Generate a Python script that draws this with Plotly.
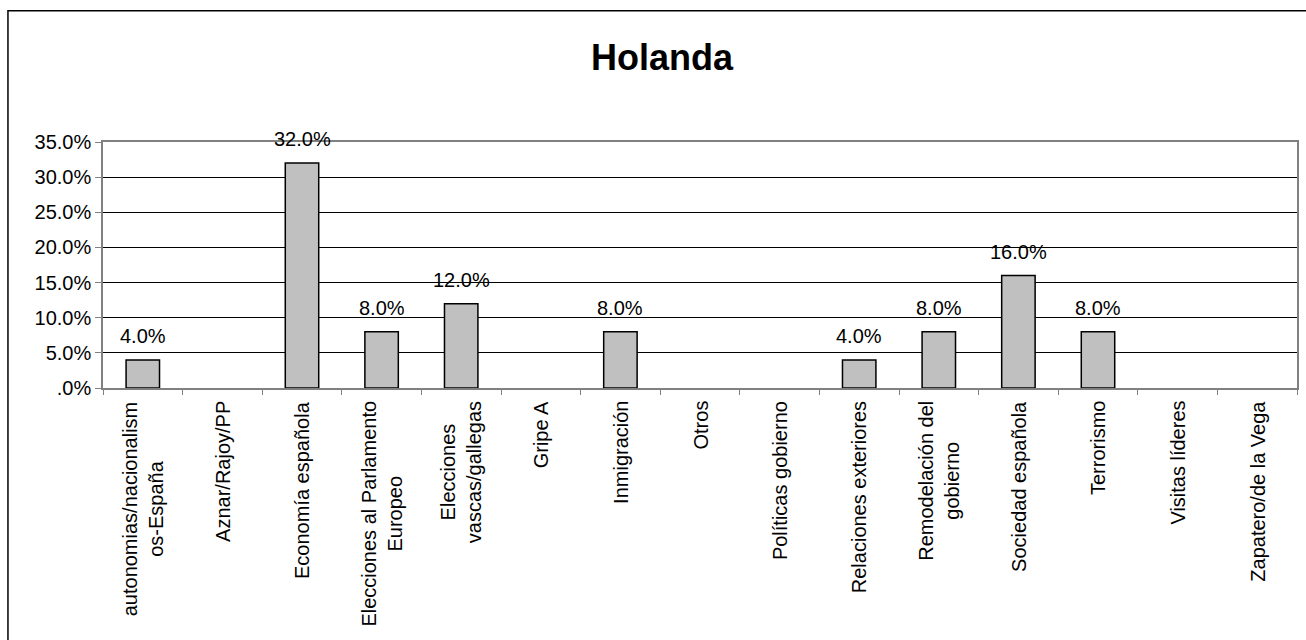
import plotly.graph_objects as go

categories = ["autonomias/nacionalism<br>os-España", "Aznar/Rajoy/PP", "Economía española",
              "Elecciones al Parlamento<br>Europeo", "Elecciones<br>vascas/gallegas", "Gripe A",
              "Inmigración", "Otros", "Políticas gobierno", "Relaciones exteriores",
              "Remodelación del<br>gobierno", "Sociedad española", "Terrorismo",
              "Visitas líderes", "Zapatero/de la Vega"]
values = [4.0, 0, 32.0, 8.0, 12.0, 0, 8.0, 0, 0, 4.0, 8.0, 16.0, 8.0, 0, 0]
ytick_vals = [0, 5, 10, 15, 20, 25, 30, 35]
ytick_text = [".0%", "5.0%", "10.0%", "15.0%", "20.0%", "25.0%", "30.0%", "35.0%"]
title = "Holanda"

FONT = "Liberation Sans, Arial, sans-serif"
xs = list(range(len(categories)))

fig = go.Figure()
fig.add_trace(go.Bar(
    x=xs, y=values, width=0.42,
    marker=dict(color="#c0c0c0",
                line=dict(color="black", width=[1.5 if v > 0 else 0 for v in values])),
    hoverinfo="skip",
))

annotations = []
for i, v in zip(xs, values):
    if v > 0:
        annotations.append(dict(x=i, y=v, xref="x", yref="y", text=f"{v:.1f}%",
                                showarrow=False, yanchor="bottom", yshift=11,
                                font=dict(family=FONT, size=20, color="black")))
for i, c in zip(xs, categories):
    annotations.append(dict(x=i, y=0, xref="x", yref="paper", text=c, textangle=-90,
                            showarrow=False, yanchor="top", xanchor="center", align="center",
                            yshift=-11,
                            font=dict(family=FONT, size=20, color="black")))
annotations.append(dict(x=0.4684, y=1.3423, xref="paper", yref="paper", text=f"<b>{title}</b>",
                        showarrow=False, xanchor="center", yanchor="middle",
                        font=dict(family=FONT, size=36, color="black")))

fig.update_layout(
    width=1306, height=640,
    margin=dict(l=103, r=7, t=142, b=252),
    paper_bgcolor="white", plot_bgcolor="white",
    showlegend=False,
    annotations=annotations,
    shapes=[dict(type="rect", xref="paper", yref="paper",
                 x0=-0.0796, x1=1.02, y0=-1.1, y1=1.5333,
                 line=dict(color="black", width=1.5), fillcolor="rgba(0,0,0,0)", layer="below")],
    font=dict(family=FONT, size=20, color="black"),
)
fig.update_xaxes(
    range=[-0.5, len(categories) - 0.5], showticklabels=False,
    ticks="outside", ticklen=5, tickcolor="#808080",
    tickmode="array", tickvals=[i - 0.5 for i in range(len(categories) + 1)],
    showline=True, linecolor="#808080", linewidth=1.5, mirror=True,
    showgrid=False, zeroline=False, type="linear",
)
fig.update_yaxes(
    range=[0, 35], tickvals=ytick_vals, ticktext=ytick_text,
    ticks="outside", ticklen=6, tickcolor="#808080",
    showline=True, linecolor="#808080", linewidth=1.5, mirror=True,
    showgrid=True, gridcolor="black", gridwidth=1, zeroline=False,
    tickfont=dict(family=FONT, size=20, color="black"),
)

fig.write_html("out.html", config={"displayModeBar": False},
               post_script="document.body.style.margin='0';document.body.style.padding='0';")
